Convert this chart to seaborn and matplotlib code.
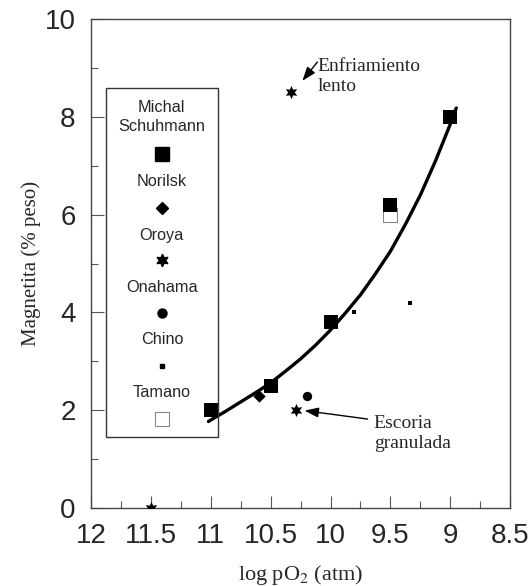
import numpy as np
import pandas as pd
import seaborn as sns
import matplotlib
matplotlib.use("Agg")
import matplotlib.pyplot as plt
from matplotlib.patches import Rectangle
from matplotlib.ticker import MultipleLocator

# --- data: log pO2 (atm, magnitude) vs magnetite content (% weight) ---
schuhmann_x = [11.0, 10.5, 10.0, 9.5, 9.0]
schuhmann_y = [2.0, 2.5, 3.8, 6.2, 8.0]

norilsk_x = [10.6]
norilsk_y = [2.3]

oroya_x = [10.33, 10.29, 11.5]
oroya_y = [8.5, 2.0, 0.0]

onahama_x = [10.2]
onahama_y = [2.3]

chino_x = [9.8, 9.34]
chino_y = [4.0, 4.2]

tamano_x = [9.5]
tamano_y = [6.0]

# trend curve through the Schuhmann data
curve_x = [11.02, 11.0, 10.875, 10.75, 10.625, 10.5, 10.375, 10.25, 10.125, 10.0,
           9.875, 9.75, 9.625, 9.5, 9.375, 9.25, 9.125, 9.0, 8.95]
curve_y = [1.77, 1.80, 1.98, 2.17, 2.36, 2.56, 2.80, 3.05, 3.33, 3.64,
           3.99, 4.36, 4.79, 5.25, 5.80, 6.40, 7.09, 7.85, 8.18]

legend_names = ["Michal\nSchuhmann", "Norilsk", "Oroya", "Onahama", "Chino", "Tamano"]

x_ticks = [12, 11.5, 11, 10.5, 10, 9.5, 9, 8.5]
y_ticks = [0, 2, 4, 6, 8, 10]

sns.set_theme(style="white")
plt.rcParams["font.family"] = ["Liberation Sans", "DejaVu Sans"]
plt.rcParams["mathtext.fontset"] = "stix"

fig = plt.figure(figsize=(5.32, 5.86), dpi=100)
ax = fig.add_axes([0.171, 0.133, 0.788, 0.8346])

star6 = (6, 1, 0)
black = "black"

sns.lineplot(x=curve_x, y=curve_y, sort=False, ax=ax, color=black, lw=2.4, zorder=2)

def pts(xs, ys, marker, size, face=black, edge=black, lw=0.0):
    sns.scatterplot(x=xs, y=ys, ax=ax, marker=marker, s=size, color=face,
                    edgecolor=edge, linewidth=lw, zorder=3, legend=False)

pts(tamano_x, tamano_y, "s", 100, face="white", edge="#888888", lw=0.8)
pts(schuhmann_x, schuhmann_y, "s", 100)
pts(norilsk_x, norilsk_y, "D", 40)
pts(oroya_x, oroya_y, star6, 90)
pts(onahama_x, onahama_y, "o", 45)
pts(chino_x, chino_y, "s", 6)

ax.set_xlim(12, 8.5)
ax.set_ylim(0, 10)
ax.set_xticks(x_ticks)
ax.set_xticklabels([f"{t:g}" for t in x_ticks])
ax.set_yticks(y_ticks)
ax.xaxis.set_minor_locator(MultipleLocator(0.25))
ax.yaxis.set_minor_locator(MultipleLocator(1))
ax.tick_params(which="major", direction="in", length=9, width=0.8, color="#555555",
               labelsize=20, bottom=True, left=True)
ax.tick_params(axis="x", which="major", pad=11)
ax.tick_params(axis="y", which="major", pad=11)
ax.tick_params(which="minor", direction="in", length=5, width=0.8, color="#555555",
               bottom=True, left=True)
for s in ax.spines.values():
    s.set_color("#444444")
    s.set_linewidth(1.0)

serif = ["Liberation Serif", "DejaVu Serif"]
ax.set_xlabel("log pO$_2$ (atm)", family=serif, fontsize=16, labelpad=10)
ax.set_ylabel("Magnetita (% peso)", family=serif, fontsize=15, labelpad=3)

# legend box drawn inside the axes
ax.add_patch(Rectangle((0.036, 0.145), 0.267, 0.714, transform=ax.transAxes,
                       fill=False, edgecolor="#333333", lw=1.0, zorder=4))
cx = 0.169
label_y = [0.800, 0.667, 0.558, 0.450, 0.344, 0.237]
marker_y = [0.724, 0.613, 0.507, 0.399, 0.290, 0.182]
marker_style = [
    dict(marker="s", ms=9.5, mfc=black, mec=black),
    dict(marker="D", ms=6.5, mfc=black, mec=black),
    dict(marker=star6, ms=9, mfc=black, mec=black),
    dict(marker="o", ms=6.5, mfc=black, mec=black),
    dict(marker="s", ms=2.5, mfc=black, mec=black),
    dict(marker="s", ms=9.5, mfc="white", mec="#888888", mew=0.8),
]
for name, ly, my, st in zip(legend_names, label_y, marker_y, marker_style):
    ax.text(cx, ly, name, transform=ax.transAxes, ha="center", va="center",
            fontsize=11.7, linespacing=1.3)
    ax.plot([cx], [my], transform=ax.transAxes, ls="none", **st)

arrow = dict(arrowstyle="-|>,head_length=0.7,head_width=0.25", color=black, lw=1.0,
             shrinkA=0, shrinkB=2)
ax.annotate("", xy=(10.25, 8.69), xytext=(10.11, 9.12), arrowprops=arrow)
ax.text(10.11, 8.83, "Enfriamiento\nlento", family=serif, fontsize=14,
        ha="left", va="center", linespacing=1.2)
ax.annotate("", xy=(10.24, 2.0), xytext=(9.69, 1.82), arrowprops=arrow)
ax.text(9.64, 1.53, "Escoria\ngranulada", family=serif, fontsize=14,
        ha="left", va="center", linespacing=1.2)

fig.savefig("out.png", dpi=100)
